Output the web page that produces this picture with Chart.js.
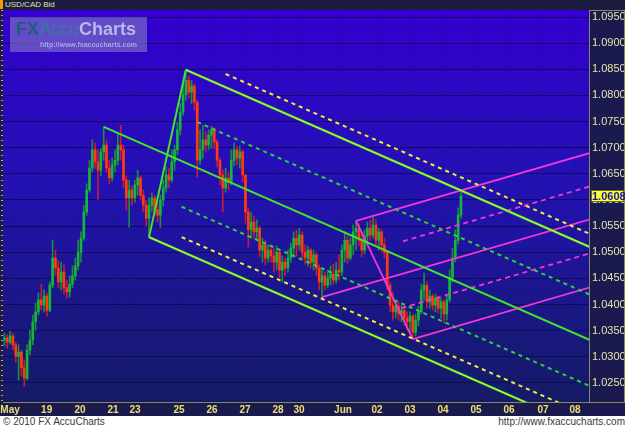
<!DOCTYPE html>
<html>
<head>
<meta charset="utf-8">
<script src="https://cdn.jsdelivr.net/npm/chart.js@4.4.1/dist/chart.umd.min.js"></script>
<style>
  html, body { margin: 0; padding: 0; background: #fff; }
  #wrap { position: relative; width: 625px; height: 428px; overflow: hidden; background: #fff; font-family: "Liberation Sans", Arial, sans-serif; }
  #panel { position: absolute; left: 0; top: 0; width: 625px; height: 416px; background: #1a1a4e; }
  #panel canvas { position: absolute; left: 0; top: 0; }
  #titlebar { position: absolute; left: 0; top: 0; width: 625px; height: 10px; background: #1c1c40; }
  #titlebar .mark { position: absolute; left: 0; top: 0; width: 3px; height: 9px; background: #f49a00; }
  #titlebar .txt { position: absolute; left: 5px; top: 0; font-size: 8px; line-height: 10px; color: #e4e4a8; }
  #edge { position: absolute; left: 1px; top: 10px; width: 2px; height: 392px;
          background: repeating-linear-gradient(to bottom, #c8b040 0 1px, transparent 1px 5px); }
  #logo { position: absolute; left: 10px; top: 17px; width: 137px; height: 35px; background: rgba(150,150,195,0.5); }
  #logo .big { position: absolute; left: 6px; top: 2px; font-size: 18px; font-weight: bold; line-height: 20px; white-space: nowrap; }
  #logo .url { position: absolute; left: 30px; top: 24px; font-size: 7px; font-weight: bold; color: #a8a8e8; white-space: nowrap; }
  #footer { position: absolute; left: 0; top: 416px; width: 625px; height: 12px; background: #fff; font-size: 10px; line-height: 12px; color: #3a3a3a; }
  #footer .l { position: absolute; left: 3px; top: 0; }
  #footer .r { position: absolute; right: 0; top: 0; }
</style>
</head>
<body>
<div id="wrap">
  <div id="panel"><canvas id="chart" width="625" height="416"></canvas></div>
  <div id="titlebar"><div class="mark"></div><div class="txt">USD/CAD Bid</div></div>
  <div id="edge"></div>
  <div id="logo">
    <div class="big"><span style="color:#1f5f7e">FX</span><span style="color:#2f7f9f;font-weight:normal">Accu</span><span style="color:#b8b8ea">Charts</span></div>
    <div class="url">http://www.fxaccucharts.com</div>
  </div>
  <div id="footer"><span class="l">© 2010 FX AccuCharts</span><span class="r">http://www.fxaccucharts.com</span></div>
</div>
<script>
// USD/CAD 2-hour bars, prices in pips above 1.0000 (open = previous close)
const firstOpen = 332;
const closePips = [
  336,328,340,323,301,309,279,259,313,332,
  367,386,409,399,416,389,437,489,470,443,
  462,432,424,439,455,474,500,527,577,619,
  661,696,673,657,692,705,661,642,667,676,
  705,696,638,604,619,604,629,642,609,590,
  565,590,604,581,571,600,623,648,638,673,
  696,734,768,801,829,806,818,787,676,696,
  715,705,724,734,711,676,648,623,642,634,
  676,696,680,692,648,577,543,558,539,546,
  504,514,489,504,493,481,500,466,481,470,
  489,508,527,514,533,500,489,504,481,495,
  470,443,455,437,451,458,447,466,462,504,
  523,489,514,539,546,523,504,531,546,533,
  552,523,539,514,500,437,399,386,397,382,
  389,374,367,378,347,370,386,428,437,405,
  416,399,412,393,405,382,409,451,489,523,
  571,608];
const highPips = [
  345,342,349,344,328,323,313,294,323,351,
  380,403,422,439,428,422,443,523,504,485,
  481,476,447,455,474,489,523,539,590,631,
  676,715,709,696,699,740,715,676,680,696,
  728,743,705,646,638,627,638,657,646,619,
  600,604,613,609,596,609,638,663,661,696,
  705,749,785,822,849,837,829,822,791,734,
  743,730,734,741,738,715,680,657,661,653,
  696,709,703,703,696,648,585,577,569,562,
  550,527,523,514,514,508,512,504,493,489,
  504,518,539,543,546,539,514,512,508,504,
  500,476,466,462,466,474,477,481,495,514,
  539,531,527,552,560,554,539,543,558,562,
  567,562,546,543,527,504,443,424,409,405,
  399,397,386,386,380,382,397,439,460,443,
  428,420,420,416,412,409,416,466,508,543,
  585,617];
const lowPips = [
  321,317,324,313,290,256,263,244,256,303,
  323,351,380,389,386,378,386,432,456,432,
  428,420,412,414,432,447,466,481,523,571,
  615,653,661,600,646,676,653,631,636,653,
  667,676,623,581,548,590,596,609,600,577,
  550,529,577,571,558,548,588,615,623,634,
  657,686,724,762,791,795,784,772,644,667,
  680,692,696,699,699,663,629,577,615,619,
  629,665,667,661,634,556,510,527,527,523,
  491,481,476,481,481,462,466,451,443,455,
  462,481,495,493,504,489,477,474,470,466,
  456,428,414,428,432,437,439,441,447,455,
  481,479,485,495,504,512,491,497,520,523,
  527,512,504,500,489,428,386,370,374,370,
  367,361,351,347,334,340,359,382,409,393,
  393,389,386,384,374,365,370,405,443,481,
  516,565];

// x axis runs in hours from the left edge
const tickHours = [5, 30.8, 54.3, 77.6, 93.1, 124.1, 147.4, 170.7, 194.0, 208.8, 239.8, 263.8, 287.1, 310.4, 333.6, 356.9, 380.9, 403.5];
const tickLabels = ['May','19','20','21','23','25','26','27','28','30','Jun','02','03','04','05','06','07','08'];
const priceTicks = [1.025, 1.030, 1.035, 1.040, 1.045, 1.050, 1.055, 1.060, 1.065, 1.070, 1.075, 1.080, 1.085, 1.090, 1.095];

// pitchfork lines: [startHour, startPips, endHour, endPips]
const greenSolid = [[71, 740, 414, 332], [103, 529, 129, 849]];
const greenTines = [[129, 849, 414, 510], [103, 529, 414, 159]];
const greenDashed = [[137, 749, 414, 419], [126, 587, 414, 244]];
const yellowDashed = [[157, 841, 414, 535], [126, 529, 414, 186]];
const pinkSolid = [[225, 414, 414, 563], [249, 560, 414, 690], [289, 334, 414, 433], [249, 560, 289, 334]];
const pinkDashed = [[282, 521, 414, 626], [281, 393, 414, 498]];

const toPrice = p => 1 + p / 10000;
const barHours = closePips.map((_, i) => 1 + 2 * i);
const openPips = closePips.map((c, i) => i == 0 ? firstOpen : closePips[i - 1]);
const isUp = closePips.map((c, i) => c >= openPips[i]);

function lineSet(seg, color, width, dash, order) {
   return {
      type: 'line',
      data: [{x: seg[0], y: toPrice(seg[1])}, {x: seg[2], y: toPrice(seg[3])}],
      borderColor: color, borderWidth: width, borderDash: dash || [],
      pointRadius: 0, fill: false, order: order
   };
}

const datasets = [];
greenTines.forEach(s => datasets.push(lineSet(s, 'rgba(240,255,70,0.85)', 1, null, 0)));
greenTines.forEach(s => datasets.push(lineSet(s, '#46d82a', 2.4, null, 1)));
greenSolid.forEach(s => datasets.push(lineSet(s, '#3fe62c', 2, null, 1)));
greenDashed.forEach(s => datasets.push(lineSet(s, '#2cd23a', 2, [4, 4], 1)));
yellowDashed.forEach(s => datasets.push(lineSet(s, '#f0ee3c', 2, [4, 4], 1)));
pinkSolid.forEach(s => datasets.push(lineSet(s, '#f536dc', 1.8, null, 1)));
pinkDashed.forEach(s => datasets.push(lineSet(s, '#f536dc', 1.8, [5, 4], 1)));

datasets.push({
   type: 'bar', order: 2, grouped: false, barThickness: 2,
   data: barHours.map((h, i) => ({x: h, y: [toPrice(openPips[i]), toPrice(closePips[i])]})),
   backgroundColor: isUp.map(u => u ? '#14b63c' : '#ff3c0a'),
   borderWidth: 0
});
datasets.push({
   type: 'bar', order: 3, grouped: false, barThickness: 1,
   data: barHours.map((h, i) => ({x: h, y: [toPrice(lowPips[i]), toPrice(highPips[i])]})),
   backgroundColor: isUp.map(u => u ? '#1e8c3a' : '#c8183c'),
   borderWidth: 0
});

const bgPlugin = {
   id: 'bg',
   beforeDraw(chart) {
      const {ctx, chartArea: a} = chart;
      const g = ctx.createLinearGradient(0, a.top, 0, a.bottom);
      g.addColorStop(0, '#3400d0');
      g.addColorStop(0.45, '#2311b2');
      g.addColorStop(1, '#141b66');
      ctx.save();
      ctx.fillStyle = g;
      ctx.fillRect(a.left, a.top, a.right - a.left, a.bottom - a.top);
      ctx.restore();
   }
};

// last price tag on the right axis
const pricePlugin = {
   id: 'lastPrice',
   afterDraw(chart) {
      const {ctx, chartArea: a} = chart;
      const last = toPrice(closePips[closePips.length - 1]);
      const y = Math.round(chart.scales.y.getPixelForValue(last));
      ctx.save();
      ctx.strokeStyle = '#8a8a58';
      ctx.lineWidth = 1;
      ctx.strokeRect(a.right + 0.5, a.top + 0.5, 35, a.bottom - a.top);
      ctx.fillStyle = '#ffff3a';
      ctx.fillRect(a.right + 2, y - 6, 33, 12);
      ctx.strokeStyle = '#6a6a20';
      ctx.strokeRect(a.right + 2.5, y - 5.5, 32, 11);
      ctx.fillStyle = '#1414a8';
      ctx.font = 'bold 11px "Liberation Sans"';
      ctx.textBaseline = 'middle';
      ctx.fillText(last.toFixed(4), a.right + 3, y + 0.5);
      ctx.restore();
   }
};

new Chart(document.getElementById('chart').getContext('2d'), {
   type: 'bar',
   data: { datasets: datasets },
   options: {
      responsive: false,
      animation: false,
      layout: { padding: { left: 3, top: 10, right: 0, bottom: 0 } },
      plugins: { legend: { display: false }, tooltip: { enabled: false } },
      scales: {
         x: {
            type: 'linear', min: 0, max: 413.3, offset: false,
            grid: { color: 'rgba(14,14,80,0.7)', drawTicks: false, offset: false },
            border: { color: '#8a8a58', dash: [1, 3] },
            ticks: {
               autoSkip: false, maxRotation: 0, padding: 2, color: '#ece070',
               font: { family: 'Liberation Sans', size: 10, weight: 'bold' },
               callback: (v, i) => tickLabels[i]
            },
            afterBuildTicks: s => { s.ticks = tickHours.map(v => ({value: v})); },
            afterFit: s => { s.height = 14; s.paddingLeft = 0; s.paddingRight = 0; }
         },
         y: {
            position: 'right', min: 1.02136, max: 1.09634,
            grid: { color: 'rgba(12,10,70,0.75)', drawTicks: false },
            border: { color: '#8a8a58' },
            ticks: {
               autoSkip: false, padding: 3, color: '#e6e6a6',
               font: { family: 'Liberation Sans', size: 11 },
               callback: v => v.toFixed(4)
            },
            afterBuildTicks: s => { s.ticks = priceTicks.map(v => ({value: v})); },
            afterFit: s => { s.width = 36; s.paddingTop = 0; s.paddingBottom = 0; }
         }
      }
   },
   plugins: [bgPlugin, pricePlugin]
});
</script>
</body>
</html>
